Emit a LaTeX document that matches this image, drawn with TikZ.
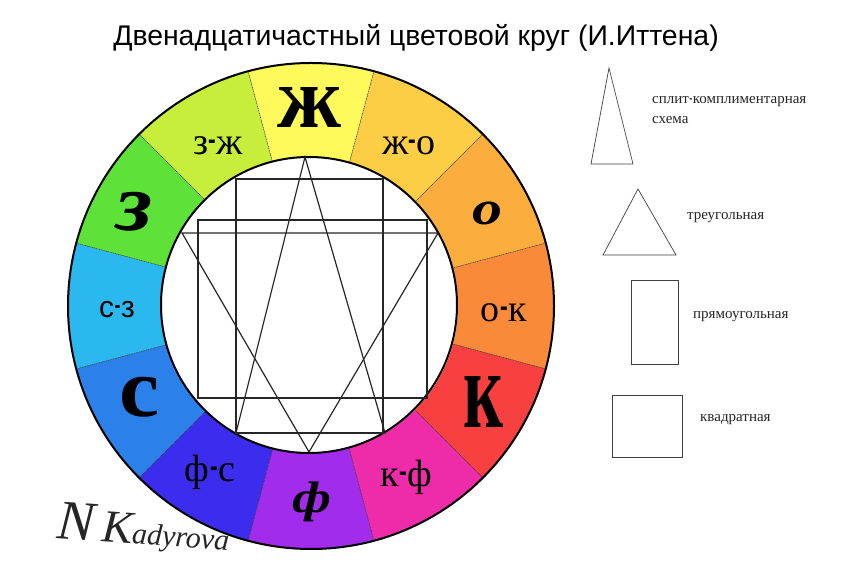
\documentclass[tikz,border=0pt]{standalone}
\usepackage{fontspec}
\usepackage{graphicx}
\setmainfont{Liberation Serif}
\newfontfamily\titlefont{Liberation Sans}
\newcommand\mydash{\kern0.5pt\raisebox{0.06em}{\scalebox{0.6}[1.2]{-}}\kern0.5pt}
\definecolor{cZh}{HTML}{FFFA5C}
\definecolor{cZhO}{HTML}{FDCD45}
\definecolor{cO}{HTML}{FBAE3E}
\definecolor{cOK}{HTML}{F98A3A}
\definecolor{cK}{HTML}{F7403F}
\definecolor{cKF}{HTML}{EE2CA9}
\definecolor{cF}{HTML}{A12CEC}
\definecolor{cFS}{HTML}{3C2DEE}
\definecolor{cS}{HTML}{2B80EA}
\definecolor{cSZ}{HTML}{2BB8EF}
\definecolor{cZ}{HTML}{5EE23A}
\definecolor{cZZh}{HTML}{C7EE3A}
\tikzset{
  seam/.style={line width=0.5pt, dash pattern=on 1.2pt off 0.6pt, black!80},
  rim/.style={line width=2pt, black},
  figline/.style={line width=1.2pt, black!85, line join=miter},
  legendline/.style={line width=0.7pt, black!75},
  mixlabel/.style={inner sep=0pt, anchor=base, font=\fontsize{38}{38}\selectfont},
  biglabel/.style={inner sep=0pt, anchor=center},
  legendtext/.style={inner sep=0pt, anchor=west, font=\fontsize{15}{17}\selectfont, black!85},
}
\begin{document}
\begin{tikzpicture}[x=1pt,y=1pt]
\useasboundingbox (0,0) rectangle (860,573);
\fill[white] (0,0) rectangle (860,573);
% title
\node[inner sep=0pt, anchor=base, font=\titlefont\fontsize{28.4}{28.4}\selectfont] (title) at (416,527) {Двенадцатичастный цветовой круг (И.Иттена)};
% wheel
\begin{scope}[shift={(311,267)}]
\foreach \k/\c in {0/cZh,1/cZhO,2/cO,3/cOK,4/cK,5/cKF,6/cF,7/cFS,8/cS,9/cSZ,10/cZ,11/cZZh}{
  \pgfmathsetmacro{\a}{90-30*\k-15}
  \pgfmathsetmacro{\b}{90-30*\k+15}
  \fill[\c] (\a:147) -- (\a:243) arc[start angle=\a, end angle=\b, radius=243] -- (\b:147) arc[start angle=\b, end angle=\a, radius=147] -- cycle;
}
\foreach \k in {0,...,11}{
  \pgfmathsetmacro{\a}{90-30*\k-15}
  \draw[seam] (\a:148) -- (\a:242);
}
\draw[rim] (0,0) circle[radius=243];
\draw[rim, fill=white] (-2,1) circle[radius=148];
\end{scope}
% inner figures
\coordinate (tA) at (305,416);
\coordinate (tB) at (236,140);
\coordinate (tC) at (385,140);
\draw[figline] (tA) -- (tB) -- (tC) -- cycle;
\coordinate (eA) at (182,340);
\coordinate (eB) at (438,340);
\coordinate (eC) at (309,121);
\draw[figline] (eA) -- (eB) -- (eC) -- cycle;
\draw[figline] (236,394) rectangle (383,140);
\draw[figline] (198,353) rectangle (427,175);
% sector labels
\node[biglabel] (lZh) at (310,465) {\resizebox*{64pt}{40pt}{\bfseries ж}};
\node[mixlabel] (lZhO) at (409,418) {ж\mydash о};
\node[biglabel] (lO) at (487,360) {\resizebox*{30pt}{23pt}{\bfseries\itshape о}};
\node[mixlabel] (lOK) at (504,251) {о\mydash к};
\node[biglabel] (lK) at (483,171) {\resizebox*{40pt}{51pt}{\bfseries к}};
\node[mixlabel] (lKF) at (406,86) {к\mydash ф};
\node[biglabel] (lF) at (312,71) {\resizebox*{39pt}{40pt}{\bfseries\itshape ф}};
\node[mixlabel] (lFS) at (210,91) {ф\mydash с};
\node[biglabel] (lS) at (140,176) {\resizebox*{40pt}{40pt}{\bfseries с}};
\node[mixlabel, font=\titlefont\fontsize{30}{30}\selectfont] (lSZ) at (117,255) {с\mydash з};
\node[biglabel] (lZ) at (135,361) {\resizebox*{36pt}{39pt}{\bfseries\itshape з}};
\node[mixlabel] (lZZh) at (218,418) {з\mydash ж};
% legend shapes
\draw[legendline] (609,505) -- (591,409) -- (633,409) -- cycle;
\draw[legendline] (638,384) -- (603,318) -- (676,318) -- cycle;
\draw[legendline] (631,293) rectangle (678,209);
\draw[legendline] (612,178) rectangle (682,116);
\node[legendtext] (t1) at (652,471) {сплит\mydash комплиментарная};
\node[legendtext] (t1b) at (652,453) {схема};
\node[legendtext] (t2) at (687,355) {треугольная};
\node[legendtext] (t3) at (693,256) {прямоугольная};
\node[legendtext] (t4) at (700,153) {квадратная};
% signature
\node[inner sep=0pt, anchor=base west, black!85, rotate=-4] (sig) at (56,35) {{\fontsize{56}{56}\selectfont\itshape N\/}\kern5pt{\fontsize{46}{46}\selectfont\itshape K}{\fontsize{30}{30}\selectfont\itshape adyrova}};
\end{tikzpicture}
\end{document}
